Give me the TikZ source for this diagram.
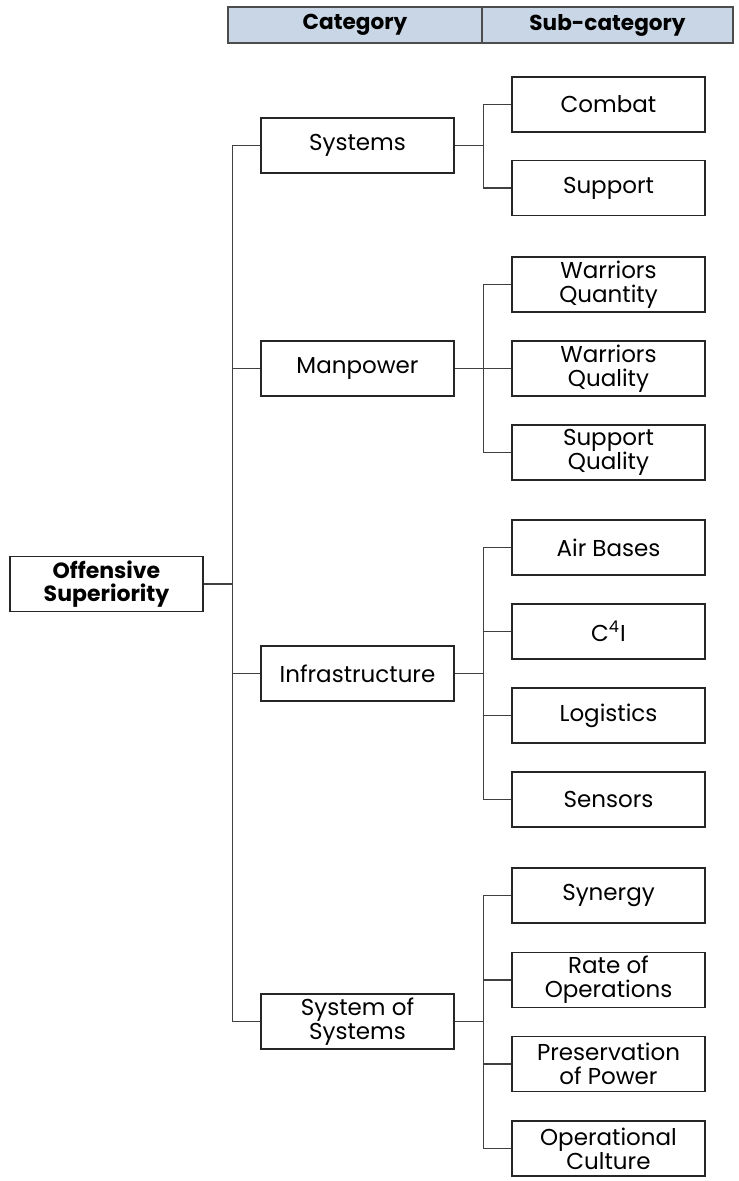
\documentclass[tikz,border=0pt]{standalone}
\usepackage{fontspec}
\setmainfont{Poppins}
\usepackage{tikz}

\definecolor{headblue}{HTML}{C9D6E5}

\tikzset{
  box/.style={draw=black!85, line width=0.55pt, minimum width=96.5pt, minimum height=27.5pt,
    inner sep=0pt, align=center, font=\fontsize{11.5}{12}\selectfont},
  rootbox/.style={box, font=\fontsize{11}{11.5}\selectfont\bfseries},
  headcell/.style={draw=black!70, line width=0.55pt, fill=headblue, minimum height=18pt,
    inner sep=0pt, font=\fontsize{10.8}{12}\selectfont\bfseries},
  link/.style={draw=black!75, line width=0.55pt}
}

\begin{document}
\begin{tikzpicture}[x=0.5pt, y=-0.5pt]
\useasboundingbox (0,0) rectangle (738,1181);

% header row
\node[headcell, minimum width=127pt] (hcat) at (355,25) {Category};
\node[headcell, minimum width=125.5pt] (hsub) at (607.5,25) {Sub-category};

% root
\node[rootbox] (root) at (106.5,584) {Offensive\\Superiority};

% categories
\node[box] (sys) at (357.5,145.5) {Systems};
\node[box] (man) at (357.5,368.5) {Manpower};
\node[box] (infra) at (357.5,673.5) {Infrastructure};
\node[box] (sos) at (357.5,1021.5) {System of\\Systems};

% sub-categories
\node[box] (combat) at (608.5,104.5) {Combat};
\node[box] (support) at (608.5,188) {Support};
\node[box] (wquant) at (608.5,284.5) {Warriors\\Quantity};
\node[box] (wqual) at (608.5,368.5) {Warriors\\Quality};
\node[box] (squal) at (608.5,452.5) {Support\\Quality};
\node[box] (air) at (608.5,547.5) {Air Bases};
\node[box] (cfour) at (608.5,631.5) {C\textsuperscript{4}I};
\node[box] (logi) at (608.5,715.5) {Logistics};
\node[box] (sens) at (608.5,799.5) {Sensors};
\node[box] (syn) at (608.5,895.5) {Synergy};
\node[box] (rate) at (608.5,980) {Rate of\\Operations};
\node[box] (pres) at (608.5,1064) {Preservation\\of Power};
\node[box] (opcult) at (608.5,1148.5) {Operational\\Culture};

% root to categories
\draw[link] (root.east) -- ++(29,0) |- (sys.west);
\draw[link] (root.east) -- ++(29,0) |- (man.west);
\draw[link] (root.east) -- ++(29,0) |- (infra.west);
\draw[link] (root.east) -- ++(29,0) |- (sos.west);

% categories to sub-categories
\draw[link] (sys.east) -- ++(29,0) |- (combat.west);
\draw[link] (sys.east) -- ++(29,0) |- (support.west);
\draw[link] (man.east) -- ++(29,0) |- (wquant.west);
\draw[link] (man.east) -- ++(29,0) |- (wqual.west);
\draw[link] (man.east) -- ++(29,0) |- (squal.west);
\draw[link] (infra.east) -- ++(29,0) |- (air.west);
\draw[link] (infra.east) -- ++(29,0) |- (cfour.west);
\draw[link] (infra.east) -- ++(29,0) |- (logi.west);
\draw[link] (infra.east) -- ++(29,0) |- (sens.west);
\draw[link] (sos.east) -- ++(29,0) |- (syn.west);
\draw[link] (sos.east) -- ++(29,0) |- (rate.west);
\draw[link] (sos.east) -- ++(29,0) |- (pres.west);
\draw[link] (sos.east) -- ++(29,0) |- (opcult.west);

\end{tikzpicture}
\end{document}
